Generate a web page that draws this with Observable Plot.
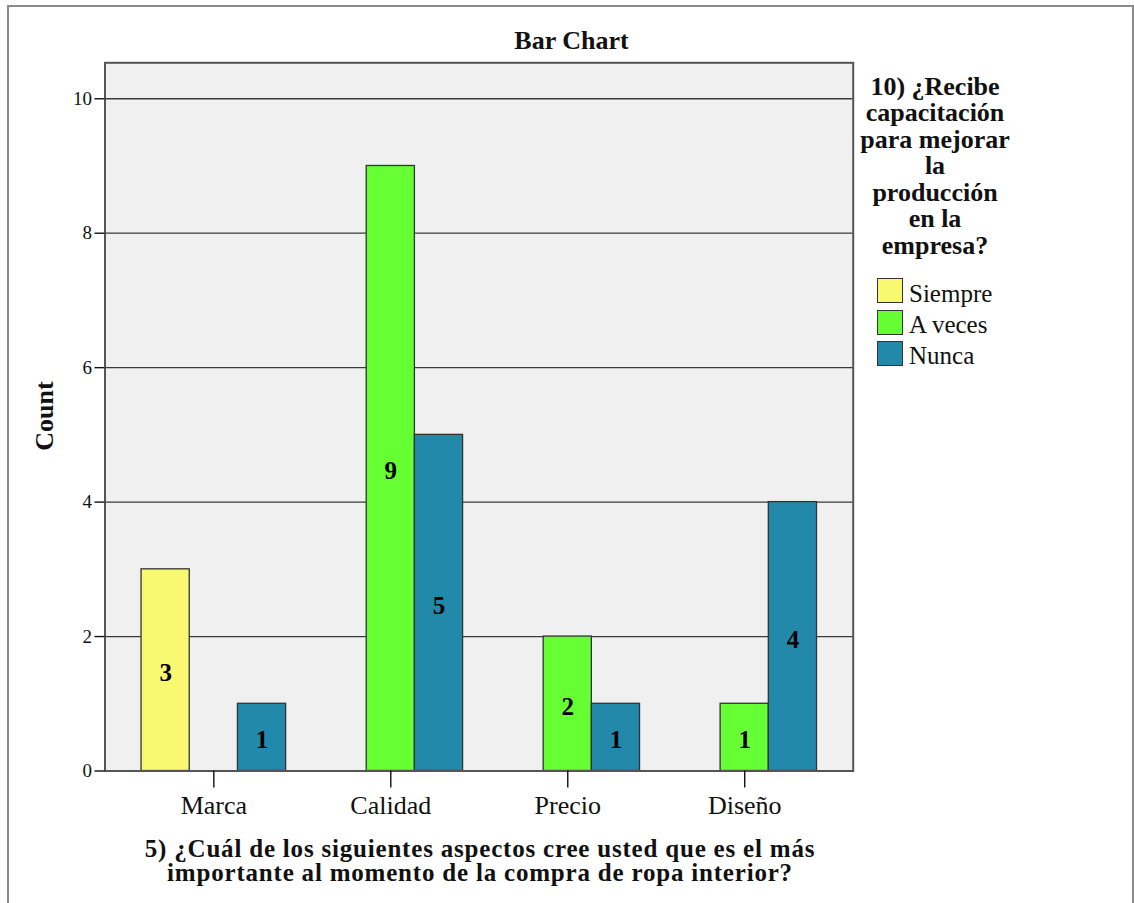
<!DOCTYPE html>
<html><head><meta charset="utf-8">
<script src="https://cdn.jsdelivr.net/npm/d3@7"></script>
<script src="https://cdn.jsdelivr.net/npm/@observablehq/plot@0.6"></script>
<style>
html,body{margin:0;padding:0;background:#fff;}
#wrap{position:relative;width:1134px;height:903px;overflow:hidden;font-family:"Liberation Serif","Times New Roman",serif;color:#111;}
#wrap svg{position:absolute;left:0;top:0;}
.t{position:absolute;white-space:nowrap;}
</style></head><body><div id="wrap"></div>
<script>
// ---- data ----
const categories = ["Marca", "Calidad", "Precio", "Diseño"];
const series = ["Siempre", "A veces", "Nunca"];
const siempre = [3, 0, 0, 0];
const aVeces  = [0, 9, 2, 1];
const nunca   = [1, 5, 1, 4];
const seriesColors = ["#f9f871", "#66ff33", "#2389ab"];
const yTicks = [0, 2, 4, 6, 8, 10];
const chartTitle = "Bar Chart";
const xTitle = ["5) ¿Cuál de los siguientes aspectos cree usted que es el más", "importante al momento de la compra de ropa interior?"];
const yTitle = "Count";
const legendTitle = ["10) ¿Recibe", "capacitación", "para mejorar", "la", "producción", "en la", "empresa?"];

const seriesValues = [siempre, aVeces, nunca];
const rows = [];
series.forEach((s, si) => categories.forEach((c, ci) => {
  const v = seriesValues[si][ci];
  if (v > 0) rows.push({category: c, ci, series: s, si, value: v});
}));

// ---- layout ----
const W = 1134, H = 903;
const plotLeft = 104.5, plotRight = 852.7, plotTop = 62.3, plotBottom = 770.5;
const barW = 0.2723; // bar width as a fraction of the category step

const wrap = document.getElementById("wrap");

const chart = Plot.plot({
  width: W, height: H,
  marginLeft: plotLeft, marginRight: W - plotRight, marginTop: plotTop, marginBottom: H - plotBottom,
  style: {fontFamily: "'Liberation Serif', serif", fontSize: "19px", color: "#111", background: "transparent", overflow: "visible"},
  x: {domain: [-0.615, 3.613], label: null},
  y: {domain: [0, 10.535], label: null},
  color: {domain: series, range: seriesColors},
  marks: [
    Plot.frame({fill: "#f0f0f0", stroke: null}),
    Plot.gridY(yTicks.filter(t => t > 0), {stroke: "#3a3a3a", strokeOpacity: 1, strokeWidth: 1.3}),
    Plot.rect(rows, {
      x1: d => d.ci + (d.si - 1.5) * barW,
      x2: d => d.ci + (d.si - 0.5) * barW,
      y1: 0, y2: "value",
      fill: "series", stroke: "#333", strokeWidth: 1.3
    }),
    Plot.text(rows, {
      x: d => d.ci + (d.si - 1) * barW,
      y: d => d.value / 2,
      text: d => String(d.value),
      fontSize: 25, fontWeight: "bold", fill: "#000", dy: 3
    }),
    Plot.frame({stroke: "#555", strokeWidth: 2}),
    Plot.axisY({ticks: yTicks, tickSize: 10, tickPadding: 3, fontSize: 19, label: null, strokeWidth: 1.4}),
    Plot.axisX({ticks: [0, 1, 2, 3], tickFormat: i => categories[i], tickSize: 17, tickPadding: 8, fontSize: 26, label: null, strokeWidth: 1.4})
  ]
});
wrap.appendChild(chart);

// ---- outer border ----
const border = document.createElement("div");
border.style.cssText = "position:absolute;left:7px;top:5px;width:1123px;height:920px;border:2px solid #8a8a8a;border-bottom:none;box-sizing:content-box;pointer-events:none;";
wrap.appendChild(border);

// ---- text helpers ----
function addText(lines, {x, baseline, size, weight = "normal", anchor = "middle", lh, spacing}) {
  lh = lh || size;
  const d = document.createElement("div");
  d.className = "t";
  d.style.fontSize = size + "px";
  d.style.lineHeight = lh + "px";
  d.style.fontWeight = weight;
  if (spacing) d.style.letterSpacing = spacing + "px";
  d.style.top = (baseline - lh / 2 - 0.3375 * size) + "px";
  if (anchor === "middle") {
    d.style.left = (x - 500) + "px"; d.style.width = "1000px"; d.style.textAlign = "center";
  } else {
    d.style.left = x + "px";
  }
  d.innerHTML = lines.map(s => s.replace(/&/g, "&amp;").replace(/</g, "&lt;")).join("<br>");
  wrap.appendChild(d);
  return d;
}

addText([chartTitle], {x: 571.5, baseline: 49.3, size: 26, weight: "bold"});
addText([xTitle[0]], {x: 480, baseline: 857, size: 25, weight: "bold", spacing: 0.8, lh: 20});
addText([xTitle[1]], {x: 480, baseline: 881.5, size: 25, weight: "bold", spacing: 0.8, lh: 20});

// y title (rotated)
const yt = document.createElement("div");
yt.className = "t";
yt.textContent = yTitle;
yt.style.cssText += "font-size:26px;line-height:26px;font-weight:bold;width:200px;text-align:center;left:" + (45 - 100) + "px;top:" + (416 - 13) + "px;transform:rotate(-90deg);transform-origin:50% 50%;";
wrap.appendChild(yt);

// legend
addText(legendTitle, {x: 935, baseline: 96, size: 26, weight: "bold", lh: 26.5});
series.forEach((s, i) => {
  const sw = document.createElement("div");
  sw.style.cssText = "position:absolute;box-sizing:border-box;left:877px;width:26px;height:25px;border:1.5px solid #333;top:" + (278 + i * 31.5) + "px;background:" + seriesColors[i] + ";";
  wrap.appendChild(sw);
  addText([s], {x: 909, baseline: 301.7 + i * 31.3, size: 25, anchor: "start"});
});
</script>
</body></html>
